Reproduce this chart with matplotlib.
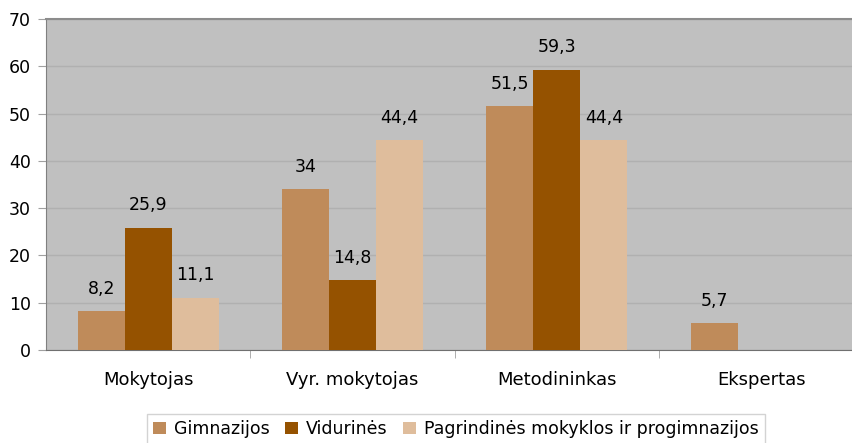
import numpy as np
import matplotlib
matplotlib.use("Agg")
from matplotlib import pyplot as plt
from matplotlib.ticker import FixedLocator

plt.rcParams['font.family'] = ['DejaVu Sans']

categories = ['Mokytojas', 'Vyr. mokytojas', 'Metodininkas', 'Ekspertas']
series_names = ['Gimnazijos', 'Vidurinės', 'Pagrindinės mokyklos ir progimnazijos']
gimnazijos = [8.2, 34, 51.5, 5.7]
vidurines = [25.9, 14.8, 59.3, None]
pagrindines = [11.1, 44.4, 44.4, None]
colors = ['#BF8B5A', '#955200', '#DFBD9C']

fig = plt.figure(figsize=(8.52, 4.43), dpi=100)
ax = fig.add_axes([46 / 852, 93 / 443, 817.5 / 852, 331 / 443])
ax.set_facecolor('#C0C0C0')

x = np.arange(len(categories))
w = 0.23
series = [gimnazijos, vidurines, pagrindines]
for i, (vals, name, c) in enumerate(zip(series, series_names, colors)):
    pos = x + (i - 1) * w
    h = [v if v is not None else 0 for v in vals]
    ax.bar(pos, h, width=w, color=c, label=name, zorder=3, linewidth=0)
    for p, v in zip(pos, vals):
        if v is None:
            continue
        # labels use comma decimal
        txt = ('%g' % v).replace('.', ',')
        ax.annotate(txt, (p, v), xytext=(0, 16), textcoords='offset points',
                    ha='center', va='center', fontsize=12.5, color='black', zorder=4)

ax.set_xlim(-0.5, 3.5)
ax.set_ylim(0, 70)
ax.set_yticks(range(0, 71, 10))
ax.yaxis.grid(True, color='#B0B0B0', linewidth=1, zorder=0)
ax.set_axisbelow(True)

ax.set_xticks(x)
ax.set_xticklabels(categories, fontsize=13)
ax.xaxis.set_minor_locator(FixedLocator([0.5, 1.5, 2.5]))
ax.tick_params(axis='x', which='major', length=0, pad=15)
ax.tick_params(axis='x', which='minor', length=6, color='#A0A0A0')
ax.tick_params(axis='y', length=6, color='#A0A0A0', labelsize=12.5, pad=5)

ax.spines['left'].set_color('#808080')
ax.spines['bottom'].set_color('#707070')
ax.spines['top'].set_color('#8C8C8C')
ax.spines['top'].set_linewidth(1.5)
ax.spines['right'].set_visible(False)

leg = fig.legend(loc='upper left', bbox_to_anchor=(147 / 852, 29 / 443), ncol=3,
                 fontsize=12.5, frameon=True, fancybox=False, edgecolor='#C8C8C8',
                 handlelength=0.75, handleheight=0.75, handletextpad=0.45,
                 columnspacing=0.9, borderpad=0.35, borderaxespad=0)
leg.get_frame().set_linewidth(1)

fig.savefig('out.png', dpi=100)
